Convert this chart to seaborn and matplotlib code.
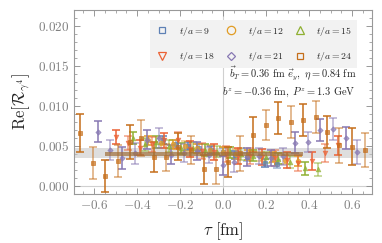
import numpy as np
import pandas as pd
import matplotlib
matplotlib.use("Agg")
import matplotlib.pyplot as plt
import seaborn as sns
from matplotlib.lines import Line2D

# --- data ---
tau_9 = [-0.28, -0.22, -0.165, -0.11, -0.055, 0.0, 0.055, 0.11, 0.195, 0.25]
val_9 = [0.0058, 0.0053, 0.0050, 0.0047, 0.0045, 0.0042, 0.0039, 0.0036, 0.0029, 0.0028]
err_9 = [0.0005, 0.0005, 0.0005, 0.0005, 0.0005, 0.0005, 0.0005, 0.0005, 0.0005, 0.0005]

tau_12 = [-0.35, -0.29, -0.235, -0.175, -0.12, -0.06, 0.0, 0.06, 0.115, 0.175, 0.23, 0.29, 0.35]
val_12 = [0.0057, 0.0054, 0.0052, 0.0050, 0.0047, 0.0045, 0.0043, 0.0040, 0.0039, 0.0037, 0.0036, 0.0033, 0.0031]
err_12 = [0.0006, 0.0006, 0.0006, 0.0006, 0.0006, 0.0006, 0.0006, 0.0006, 0.0006, 0.0006, 0.0006, 0.0006, 0.0006]

tau_15 = [-0.42, -0.365, -0.31, -0.25, -0.195, -0.14, -0.085, -0.03, 0.03, 0.085, 0.14, 0.2, 0.255, 0.31, 0.38, 0.44]
val_15 = [0.0060, 0.0052, 0.0055, 0.0050, 0.0047, 0.0048, 0.0045, 0.0043, 0.0042, 0.0040, 0.0038, 0.0036, 0.0034, 0.0030, 0.0022, 0.0021]
err_15 = [0.0008, 0.0008, 0.0008, 0.0007, 0.0007, 0.0007, 0.0007, 0.0007, 0.0007, 0.0007, 0.0007, 0.0007, 0.0007, 0.0008, 0.0008, 0.0008]

tau_18 = [-0.5, -0.44, -0.385, -0.33, -0.275, -0.21, -0.155, -0.1, -0.04, 0.015, 0.07, 0.125, 0.18, 0.24, 0.295, 0.35, 0.415, 0.475, 0.535]
val_18 = [0.0061, 0.0054, 0.0048, 0.0052, 0.0057, 0.0057, 0.0046, 0.0044, 0.0042, 0.0040, 0.0038, 0.0037, 0.0036, 0.0035, 0.0033, 0.0029, 0.0031, 0.0041, 0.0051]
err_18 = [0.0009, 0.0009, 0.0009, 0.0009, 0.0009, 0.0010, 0.0010, 0.0010, 0.0010, 0.0010, 0.0010, 0.0010, 0.0010, 0.0010, 0.0010, 0.0010, 0.0011, 0.0011, 0.0012]

tau_21 = [-0.58, -0.525, -0.47, -0.41, -0.355, -0.30, -0.24, -0.18, -0.12, -0.065, 0.0, 0.05, 0.11, 0.165, 0.225, 0.28, 0.335, 0.395, 0.45, 0.51, 0.57, 0.625]
val_21 = [0.0068, 0.0045, 0.0035, 0.0041, 0.0058, 0.0060, 0.0039, 0.0041, 0.0044, 0.0039, 0.0026, 0.0030, 0.0036, 0.0038, 0.0035, 0.0037, 0.0054, 0.0055, 0.0070, 0.0071, 0.0060, 0.0043]
err_21 = [0.0013, 0.0012, 0.0014, 0.0013, 0.0012, 0.0012, 0.0012, 0.0011, 0.0011, 0.0010, 0.0012, 0.0012, 0.0011, 0.0010, 0.0010, 0.0011, 0.0013, 0.0013, 0.0014, 0.0014, 0.0014, 0.0015]

tau_24 = [-0.665, -0.605, -0.55, -0.49, -0.435, -0.38, -0.32, -0.265, -0.21, -0.15, -0.09, -0.035, 0.025, 0.08, 0.14, 0.2, 0.255, 0.315, 0.37, 0.43, 0.485, 0.54, 0.6, 0.66]
val_24 = [0.0066, 0.0029, 0.0013, 0.0031, 0.0055, 0.0060, 0.0036, 0.0036, 0.0049, 0.0045, 0.0021, 0.0021, 0.0030, 0.0041, 0.0064, 0.0076, 0.0085, 0.0080, 0.0083, 0.0086, 0.0067, 0.0051, 0.0049, 0.0045]
err_24 = [0.0024, 0.0020, 0.0020, 0.0020, 0.0021, 0.0022, 0.0019, 0.0017, 0.0017, 0.0018, 0.0018, 0.0019, 0.0019, 0.0022, 0.0022, 0.0019, 0.0020, 0.0020, 0.0020, 0.0020, 0.0020, 0.0022, 0.0023, 0.0021]

labels = ["9", "12", "15", "18", "21", "24"]
colors = ["#5E81B5", "#E19C24", "#8FB032", "#EB6235", "#8778B3", "#C56E1A"]
markers = ["s", "o", "^", "v", "D", "s"]
taus = [tau_9, tau_12, tau_15, tau_18, tau_21, tau_24]
vals = [val_9, val_12, val_15, val_18, val_21, val_24]
errs = [err_9, err_12, err_15, err_18, err_21, err_24]

# overall fit band and fit range
band_center = 0.0041
band_half = 0.00058
fit_range = [-0.55, 0.37]
fit_center = 0.0040
fit_half = 0.00025

sns.set_style("ticks")
plt.rcParams["font.family"] = ["DejaVu Serif"]
plt.rcParams["mathtext.fontset"] = "cm"

fig = plt.figure(figsize=(3.82, 2.43), dpi=100)
ax = fig.add_axes([0.194, 0.202, 0.780, 0.757])

ax.axhline(0, color="#d0d0d0", lw=0.8, zorder=0)
ax.axvline(0, color="#d0d0d0", lw=0.8, zorder=0)
ax.axhspan(band_center - band_half, band_center + band_half, color="#c4c4c4", alpha=0.55, lw=0, zorder=1)

rows = []
for lab, t, v, e in zip(labels, taus, vals, errs):
    for i, (ti, vi, ei) in enumerate(zip(t, v, e)):
        rows.append({"ta": lab, "tau": ti, "val": vi, "err": ei, "alt": i % 2})
df = pd.DataFrame(rows)

sizes = {"s": 11, "o": 11, "^": 11, "v": 11, "D": 7}
for lab, c, m in zip(labels, colors, markers):
    sub = df[df["ta"] == lab]
    for alt, a in [(0, 1.0), (1, 0.6)]:
        s = sub[sub["alt"] == alt]
        ax.errorbar(s["tau"], s["val"], yerr=s["err"], fmt="none", ecolor=c,
                    elinewidth=1.1, capsize=3.2, capthick=1.1, alpha=a, zorder=3)
    sns.scatterplot(data=sub, x="tau", y="val", marker=m, color=c, s=sizes[m],
                    edgecolor=c, linewidth=0.6, alpha=0.7, ax=ax, zorder=4, legend=False)

ax.fill_between(fit_range, fit_center - fit_half, fit_center + fit_half,
                color="#a0703a", alpha=0.7, lw=0, zorder=5)

ax.set_xlim(-0.693, 0.693)
ax.set_ylim(-0.001, 0.022)
ax.set_xticks([-0.6, -0.4, -0.2, 0.0, 0.2, 0.4, 0.6])
ax.set_xticklabels([r"$-0.6$", r"$-0.4$", r"$-0.2$", r"$0.0$", r"$0.2$", r"$0.4$", r"$0.6$"])
ax.set_yticks([0.0, 0.005, 0.010, 0.015, 0.020])
ax.set_yticklabels([r"$0.000$", r"$0.005$", r"$0.010$", r"$0.015$", r"$0.020$"])
ax.minorticks_on()
ax.tick_params(which="both", direction="in", top=True, right=True, color="#888888",
               labelcolor="#808080", labelsize=9.5)
ax.tick_params(which="major", length=4, width=0.6)
ax.tick_params(which="minor", length=2, width=0.5)
for sp in ax.spines.values():
    sp.set_color("#999999")
    sp.set_linewidth(0.8)

ax.set_xlabel(r"$\tau\ [\mathrm{fm}]$", fontsize=12, labelpad=6)
ax.set_ylabel(r"$\mathrm{Re}[\mathcal{R}_{\gamma^4}]$", fontsize=12, labelpad=4)

handles = [Line2D([], [], ls="none", marker=m, markersize={"s": 4.5, "o": 6, "^": 5.5, "v": 5.5, "D": 4.5}[m],
                  markerfacecolor="none", markeredgecolor=c, markeredgewidth=0.9)
           for c, m in zip(colors, markers)]
order = [0, 3, 1, 4, 2, 5]
leg = ax.legend([handles[i] for i in order],
                [r"$t/a=%s$" % labels[i] for i in order],
                ncol=3, loc="upper right", bbox_to_anchor=(0.95, 0.946),
                fontsize=7, frameon=True, fancybox=False, framealpha=1,
                handlelength=1.6, handletextpad=0.9, columnspacing=0.9,
                borderpad=0.5, labelspacing=1.3, borderaxespad=0)
leg.get_frame().set_facecolor("#f2f2f2")
leg.get_frame().set_edgecolor("none")
leg.set_zorder(6)

ax.text(0.946, 0.652, r"$\vec{b}_T = 0.36\ \mathrm{fm}\ \vec{e}_y,\ \eta = 0.84\ \mathrm{fm}$",
        transform=ax.transAxes, ha="right", va="center", fontsize=7.5, zorder=7)
ax.text(0.946, 0.554, r"$b^z = -0.36\ \mathrm{fm},\ P^z = 1.3\ \mathrm{GeV}$",
        transform=ax.transAxes, ha="right", va="center", fontsize=7.5, zorder=7)

fig.savefig("out.png", dpi=100)
